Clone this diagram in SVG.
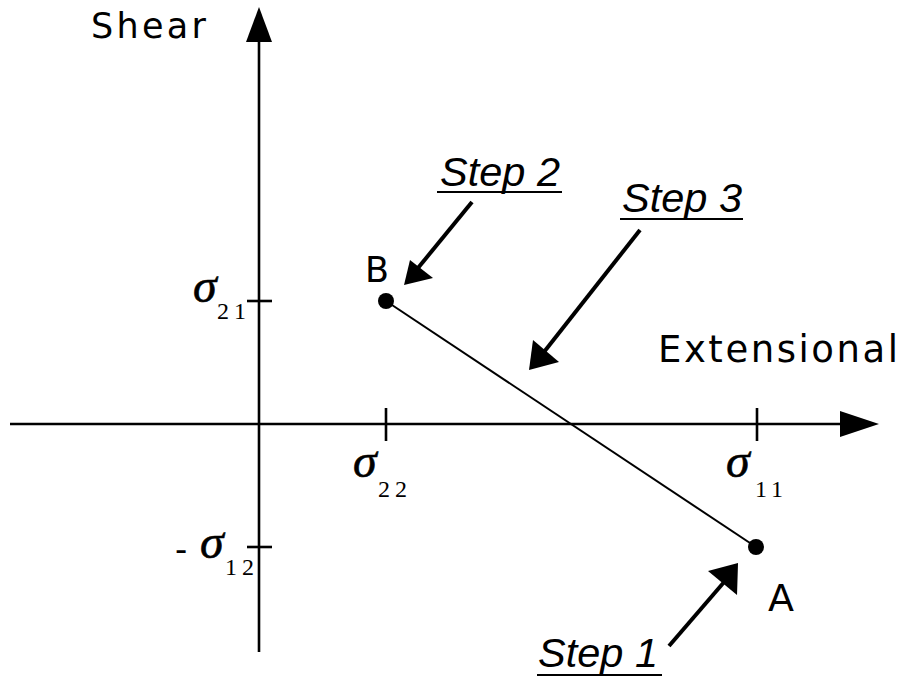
<svg xmlns="http://www.w3.org/2000/svg" width="903" height="677" viewBox="0 0 903 677">
<style>
.ax{stroke:#000;stroke-width:2.6;fill:none}
.ln{stroke:#000;stroke-width:2;fill:none}
.ar{stroke:#000;stroke-width:4;fill:none}
.hd{fill:#000;stroke:none}
.lab{font-family:"DejaVu Sans","Liberation Sans",Arial,sans-serif;fill:#000}
.sig{font-family:"Liberation Serif","Times New Roman",serif;font-style:italic;font-size:48px;fill:#000;stroke:#000;stroke-width:0.6}
.sub{font-family:"Liberation Serif","Times New Roman",serif;font-size:24px;letter-spacing:5px;fill:#000}
.step{font-family:"Liberation Sans",Arial,sans-serif;font-style:italic;font-size:40px;fill:#000}
</style>
<rect width="903" height="677" fill="#fff"/>
<g id="axes">
<line class="ax" x1="259" y1="652" x2="259" y2="38"/>
<polygon class="hd" points="259,7 246,42 272,42"/>
<line class="ax" x1="10" y1="424" x2="842" y2="424"/>
<polygon class="hd" points="879,424 840,411 840,437"/>
<line class="ax" x1="247" y1="301" x2="272" y2="301"/>
<line class="ax" x1="247" y1="547" x2="272" y2="547"/>
<line class="ax" x1="386" y1="408" x2="386" y2="441"/>
<line class="ax" x1="757" y1="408" x2="757" y2="441"/>
<text class="lab" x="91" y="38" font-size="35" textLength="115" lengthAdjust="spacing">Shear</text>
<text class="lab" x="658" y="362" font-size="37" textLength="240" lengthAdjust="spacing">Extensional</text>
</g>
<g id="tick-labels">
<text class="sig" x="193" y="302">σ</text><text class="sub" x="217" y="319">21</text>
<text class="sig" x="353" y="477">σ</text><text class="sub" x="378" y="497">22</text>
<text class="sig" x="726" y="477">σ</text><text class="sub" x="755" y="497">11</text>
<text class="lab" x="175" y="561" font-size="34">-</text>
<text class="sig" x="200" y="558">σ</text><text class="sub" x="225" y="575">12</text>
</g>
<g id="connectors">
<line class="ln" x1="386" y1="301" x2="756" y2="547"/>
<line class="ar" x1="472" y1="202" x2="418" y2="268"/>
<polygon class="hd" points="404,285 410,260 433,278"/>
<line class="ar" x1="640" y1="230" x2="544" y2="352"/>
<polygon class="hd" points="529,370 533,340 559,362"/>
<line class="ar" x1="669" y1="646" x2="725" y2="581"/>
<polygon class="hd" points="738,563 708,571 737,595"/>
</g>
<g id="node-B">
<circle cx="386" cy="301" r="8"/>
<text class="lab" x="365" y="282" font-size="35">B</text>
</g>
<g id="node-A">
<circle cx="756" cy="547" r="8"/>
<text class="lab" x="768" y="611" font-size="38">A</text>
</g>
<g id="step2">
<text class="step" x="440" y="186" textLength="120" lengthAdjust="spacingAndGlyphs">Step 2</text>
<line class="ln" x1="437" y1="192" x2="562" y2="192"/>
</g>
<g id="step3">
<text class="step" x="622" y="212" textLength="120" lengthAdjust="spacingAndGlyphs">Step 3</text>
<line class="ln" x1="620" y1="219" x2="743" y2="219"/>
</g>
<g id="step1">
<text class="step" x="538" y="667" textLength="120" lengthAdjust="spacingAndGlyphs">Step 1</text>
<line class="ln" x1="537" y1="675" x2="662" y2="675"/>
</g>
</svg>
